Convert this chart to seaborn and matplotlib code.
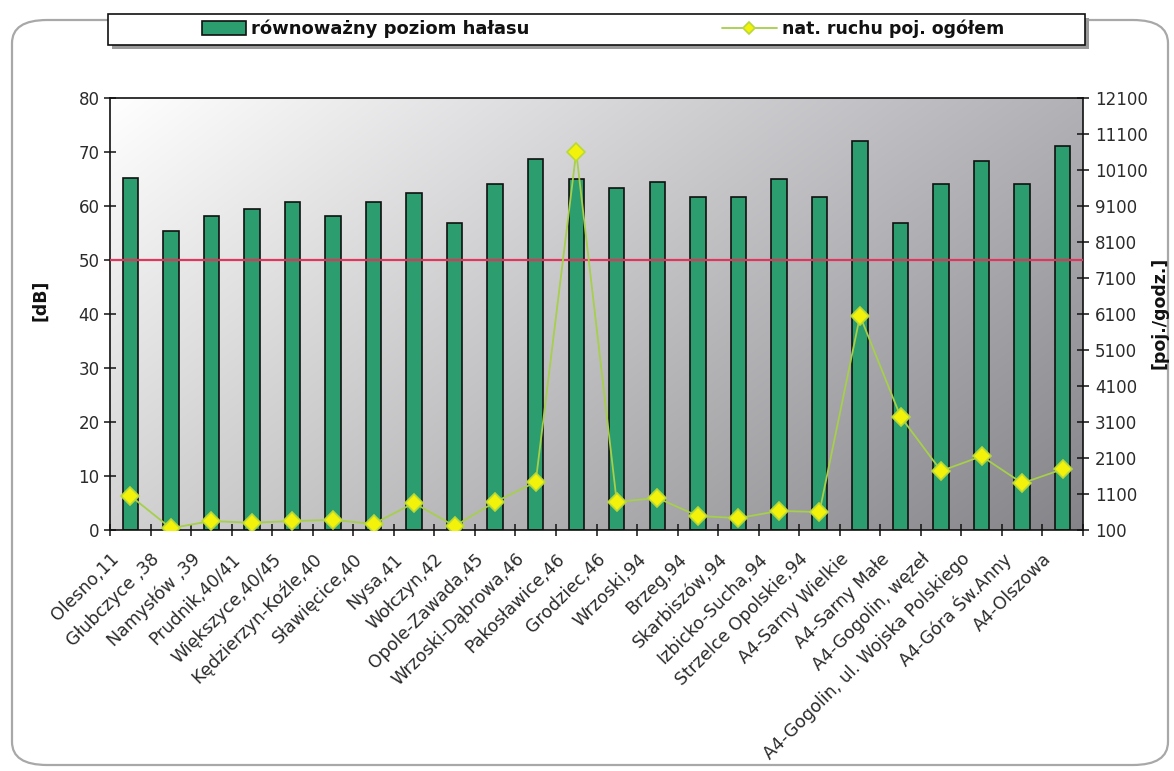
import numpy as np
import matplotlib
matplotlib.use("Agg")
import matplotlib.pyplot as plt
import matplotlib.transforms as mtransforms
from matplotlib.patches import FancyBboxPatch, Rectangle
import seaborn as sns

# Measurement points
categories = [
    "Olesno,11", "Głubczyce ,38", "Namysłów ,39", "Prudnik,40/41",
    "Większyce,40/45", "Kędzierzyn-Koźle,40", "Sławięcice,40", "Nysa,41",
    "Wołczyn,42", "Opole-Zawada,45", "Wrzoski-Dąbrowa,46", "Pakosławice,46",
    "Grodziec,46", "Wrzoski,94", "Brzeg,94", "Skarbiszów,94",
    "Izbicko-Sucha,94", "Strzelce Opolskie,94", "A4-Sarny Wielkie",
    "A4-Sarny Małe", "A4-Gogolin, węzeł", "A4-Gogolin, ul. Wojska Polskiego",
    "A4-Góra Św.Anny", "A4-Olszowa",
]

# Equivalent noise level [dB]
noise_db = [65.2, 55.4, 58.1, 59.4, 60.7, 58.1, 60.7, 62.4, 56.8, 64.1, 68.7, 65.0,
            63.3, 64.4, 61.7, 61.7, 65.0, 61.7, 72.0, 56.8, 64.1, 68.3, 64.1, 71.1]

# Total vehicle traffic intensity [veh./h]
traffic = [1050, 150, 350, 300, 350, 380, 270, 850, 210, 880, 1430, 10600,
           880, 990, 490, 430, 630, 600, 6050, 3250, 1740, 2150, 1400, 1790]

limit_db = 50
db_ticks = list(range(0, 81, 10))
traffic_ticks = list(range(100, 12101, 1000))

sns.set_style("ticks")
plt.rcParams["font.family"] = ["DejaVu Sans"]

BAR_GREEN = "#2C9D6E"
LINE_GREEN = "#A6CF4A"
TEXT = "#2b2b2b"

fig = plt.figure(figsize=(11.74, 7.71), dpi=100)
fig.patch.set_facecolor("white")

# Outer rounded frame
frame = FancyBboxPatch((12 / 1174, 6 / 771), 1156 / 1174, 745 / 771,
                       boxstyle="round,pad=0,rounding_size=0.03",
                       transform=fig.transFigure, facecolor="white",
                       edgecolor="#a8a8a8", linewidth=1.6, zorder=-10)
fig.patches.append(frame)

pos = [110 / 1174, (771 - 530) / 771, (1083 - 110) / 1174, (530 - 98) / 771]

# Diagonal grey gradient behind the plot area
bg = fig.add_axes(pos, zorder=0)
u = np.linspace(0, 1, 300)
v = np.linspace(1, 0, 200)
U, V = np.meshgrid(u, v)
g = 255 - 78 * U - 45 * (1 - V)
img = np.dstack([g, g, g + 5 * U]).clip(0, 255) / 255.0
bg.imshow(img, extent=[0, 1, 0, 1], aspect="auto", interpolation="bilinear")
bg.set_axis_off()

ax = fig.add_axes(pos, zorder=1)
ax.patch.set_visible(False)

n = len(categories)
sns.barplot(x=categories, y=noise_db, color=BAR_GREEN, saturation=1, width=0.38,
            edgecolor="#111111", linewidth=1.2, ax=ax, zorder=2)
ax.axhline(limit_db, color="#E0365E", linewidth=1.6, zorder=3)

ax.set_xlim(-0.5, n - 0.5)
ax.set_ylim(0, 80)
ax.set_yticks(db_ticks)
ax.set_ylabel("")
ax.set_xlabel("")
for s in ax.spines.values():
    s.set_visible(True)
    s.set_color("#111111")
    s.set_linewidth(1.2)

ax.tick_params(axis="y", direction="inout", length=9, width=1.1, colors="#111111",
               labelcolor=TEXT, labelsize=12, pad=3)
ax.set_xticks(range(n))
ax.set_xticks(np.arange(-0.5, n, 1.0), minor=True)
ax.tick_params(axis="x", which="major", length=0, pad=19, labelcolor=TEXT, labelsize=12.5)
ax.tick_params(axis="x", which="minor", direction="inout", length=9, width=1.1, colors="#111111")
ax.set_xticklabels(categories, rotation=45, ha="right", va="center", rotation_mode="anchor")
shift = mtransforms.ScaledTranslation(-14 / 100, 0, fig.dpi_scale_trans)
for lbl in ax.get_xticklabels():
    lbl.set_transform(lbl.get_transform() + shift)

ax2 = ax.twinx()
sns.lineplot(x=np.arange(n), y=traffic, ax=ax2, color=LINE_GREEN, linewidth=1.3,
             marker="D", markersize=9, markerfacecolor="#F2F20A",
             markeredgecolor="#B8D83A", markeredgewidth=1.2, zorder=4)
ax2.set_ylim(100, 12100)
ax2.set_yticks(traffic_ticks)
ax2.set_ylabel("")
ax2.tick_params(axis="y", direction="inout", length=9, width=1.1, colors="#111111",
                labelcolor=TEXT, labelsize=12, pad=4)
for s in ax2.spines.values():
    s.set_visible(False)

fig.text(40 / 1174, 1 - 300 / 771, "[dB]", rotation=90, ha="center", va="center",
         fontsize=12.5, fontweight="bold", color="#111111")
fig.text(1159 / 1174, 1 - 313 / 771, "[poj./godz.]", rotation=90, ha="center",
         va="center", fontsize=12.5, fontweight="bold", color="#111111")

# Legend box with drop shadow
shadow = Rectangle((112 / 1174, 1 - 49 / 771), 977 / 1174, 31 / 771,
                   transform=fig.transFigure, facecolor="#9a9a9a", edgecolor="none", zorder=5)
box = Rectangle((108 / 1174, 1 - 45 / 771), 977 / 1174, 31 / 771,
                transform=fig.transFigure, facecolor="white", edgecolor="#111111",
                linewidth=1.2, zorder=6)
fig.patches.extend([shadow, box])

bar_handle = ax.patches[0]
line_handle = ax2.get_lines()[0]
leg1 = fig.legend([bar_handle], ["równoważny poziom hałasu"], loc="center left",
                  bbox_to_anchor=(186 / 1174, 1 - 29 / 771), frameon=False,
                  handlelength=2.4, handleheight=0.8, handletextpad=0.3,
                  prop={"weight": "bold", "size": 13})
leg2 = fig.legend([line_handle], ["nat. ruchu poj. ogółem"], loc="center left",
                  bbox_to_anchor=(706 / 1174, 1 - 29 / 771), frameon=False,
                  handlelength=3.2, handletextpad=0.3, markerscale=0.7,
                  prop={"weight": "bold", "size": 12.5})
for lg in (leg1, leg2):
    lg.set_zorder(7)
    for t in lg.get_texts():
        t.set_color("#111111")

fig.savefig("out.png", dpi=100)
